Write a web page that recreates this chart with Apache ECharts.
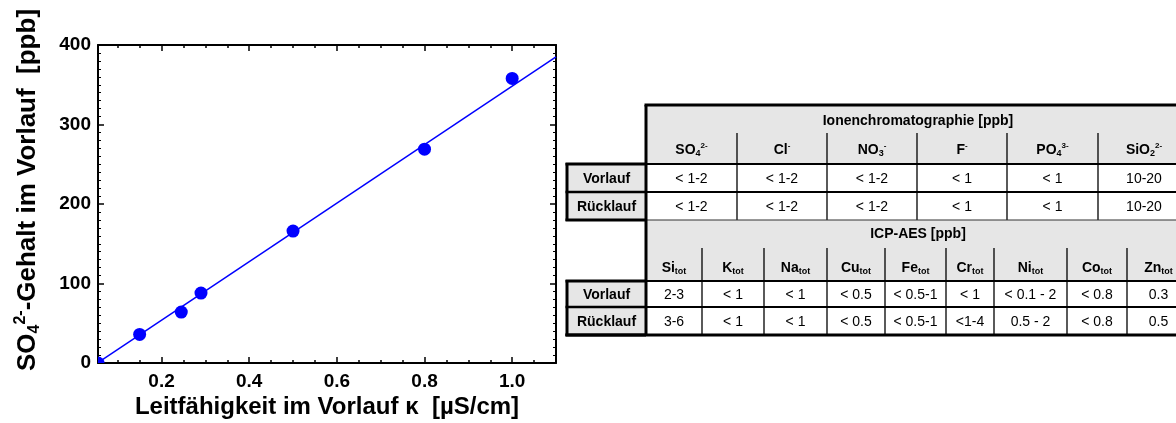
<!DOCTYPE html>
<html>
<head>
<meta charset="utf-8">
<script src="https://cdn.jsdelivr.net/npm/echarts@6/dist/echarts.min.js"></script>
<style>
  html, body { margin: 0; padding: 0; background: #fff; }
  #chart { width: 1176px; height: 423px; }
</style>
</head>
<body>
<div id="chart"></div>
<script>
// ---- measured data: SO4 content vs. conductivity ----
const conductivity = [0.055, 0.15, 0.245, 0.29, 0.5, 0.8, 1.0];
const so4Content   = [0, 36, 64, 88, 166, 269, 358];
// regression line end points
const fitX = [0.055, 1.1];
const fitY = [0.5, 385];

// ---- axis ticks ----
const xMajorTicks = [0.2, 0.4, 0.6, 0.8, 1.0];
const xMinorTicks = [0.1, 0.15, 0.25, 0.3, 0.35, 0.45, 0.5, 0.55, 0.65, 0.7, 0.75, 0.85, 0.9, 0.95, 1.05];

// ---- table contents ----
const rowLabels = ['Vorlauf', 'Rücklauf'];

const ionTitle = 'Ionenchromatographie [ppb]';
// [symbol, subscript, superscript]
const ionSpecies = [['SO', '4', '2-'], ['Cl', '', '-'], ['NO', '3', '-'], ['F', '', '-'], ['PO', '4', '3-'], ['SiO', '2', '2-']];
const ionVorlauf   = ['< 1-2', '< 1-2', '< 1-2', '< 1', '< 1', '10-20'];
const ionRuecklauf = ['< 1-2', '< 1-2', '< 1-2', '< 1', '< 1', '10-20'];

const icpTitle = 'ICP-AES [ppb]';
const icpElements  = ['Si', 'K', 'Na', 'Cu', 'Fe', 'Cr', 'Ni', 'Co', 'Zn'];
const icpVorlauf   = ['2-3', '< 1', '< 1', '< 0.5', '< 0.5-1', '< 1', '< 0.1 - 2', '< 0.8', '0.3'];
const icpRuecklauf = ['3-6', '< 1', '< 1', '< 0.5', '< 0.5-1', '<1-4', '0.5 - 2', '< 0.8', '0.5'];

// ---- table layout ----
const FONT = 'Liberation Sans, Arial, Helvetica, sans-serif';
const LABEL_LEFT = 567, TABLE_LEFT = 646, TABLE_RIGHT = 1190;
const ionBlock = { top: 105, subTop: 133, titleY: 121, subY: 150, headBottom: 164, rowMid: 192, bottom: 220,
  cols: [646, 737, 827, 917, 1007, 1098, 1190] };
const icpBlock = { top: 220, subTop: 248, titleY: 234, subY: 268, headBottom: 281, rowMid: 307, bottom: 335,
  cols: [646, 702, 764, 827, 885, 946, 994, 1067, 1127, 1190] };
const GREY = '#e6e6e6';
const CELL_FONT = 14;

const richHead = {
  b:   { fontFamily: FONT, fontSize: CELL_FONT, fontWeight: 'bold', lineHeight: 17, color: '#000' },
  sub: { fontFamily: FONT, fontSize: 9, fontWeight: 'bold', lineHeight: 9, verticalAlign: 'bottom', color: '#000' },
  sup: { fontFamily: FONT, fontSize: 8, fontWeight: 'bold', lineHeight: 8, verticalAlign: 'top', color: '#000' }
};

function chemText(sym, sub, sup) {
  let s = '{b|' + sym + '}';
  if (sub) s += '{sub|' + sub + '}';
  if (sup) s += '{sup|' + sup + '}';
  return s;
}

function txt(x, y, text, opts) {
  opts = opts || {};
  return {
    type: 'text', x: x, y: y, silent: true, z: 20,
    style: Object.assign({
      text: text, fill: '#000', fontFamily: FONT,
      fontSize: opts.fontSize || CELL_FONT, fontWeight: opts.bold ? 'bold' : 'normal',
      textAlign: 'center', textVerticalAlign: 'middle'
    }, opts.rich ? { rich: opts.rich } : {})
  };
}
function rect(x, y, w, h, fill) {
  return { type: 'rect', silent: true, z: 10, shape: { x: x, y: y, width: w, height: h },
    style: { fill: fill } };
}
function line(x1, y1, x2, y2, lw, color) {
  return { type: 'line', silent: true, z: 15, shape: { x1: x1, y1: y1, x2: x2, y2: y2 },
    style: { stroke: color || '#000', lineWidth: lw } };
}

function buildBlock(b, title, heads, row1, row2, thickTop, thickBottom) {
  const els = [];
  // header background and data area
  els.push(rect(TABLE_LEFT, b.top, TABLE_RIGHT - TABLE_LEFT, b.headBottom - b.top, GREY));
  els.push(rect(TABLE_LEFT, b.headBottom, TABLE_RIGHT - TABLE_LEFT, b.bottom - b.headBottom, '#fff'));
  // row label cells
  els.push(rect(LABEL_LEFT, b.headBottom, TABLE_LEFT - LABEL_LEFT, b.bottom - b.headBottom, GREY));
  // column dividers
  for (let i = 1; i < b.cols.length - 1; i++) {
    els.push(line(b.cols[i], b.subTop, b.cols[i], b.bottom, 1.3));
  }
  // horizontal rules
  els.push(line(LABEL_LEFT, b.headBottom, TABLE_RIGHT, b.headBottom, 2));
  els.push(line(LABEL_LEFT, b.rowMid, TABLE_RIGHT, b.rowMid, 2));
  if (thickTop) els.push(line(TABLE_LEFT - 1.5, b.top, TABLE_RIGHT, b.top, 3));
  if (thickBottom) els.push(line(LABEL_LEFT - 1.5, b.bottom, TABLE_RIGHT, b.bottom, 3));
  else els.push(line(LABEL_LEFT, b.bottom, TABLE_RIGHT, b.bottom, 1.2, '#333'));
  // heavy frame of the label column and header block
  els.push(line(TABLE_LEFT, b.top, TABLE_LEFT, b.bottom, 3));
  els.push(line(LABEL_LEFT, b.headBottom - 1, LABEL_LEFT, b.bottom + 1, 3));
  els.push(line(LABEL_LEFT - 1.5, b.headBottom, TABLE_LEFT, b.headBottom, 3));
  els.push(line(LABEL_LEFT - 1.5, b.rowMid, TABLE_LEFT, b.rowMid, 2.5));
  els.push(line(LABEL_LEFT - 1.5, b.bottom, TABLE_LEFT, b.bottom, 3));
  // texts
  els.push(txt((TABLE_LEFT + TABLE_RIGHT) / 2, b.titleY, title, { bold: true }));
  const r1y = (b.headBottom + b.rowMid) / 2 + 1, r2y = (b.rowMid + b.bottom) / 2 + 1;
  els.push(txt((LABEL_LEFT + TABLE_LEFT) / 2, r1y, rowLabels[0], { bold: true }));
  els.push(txt((LABEL_LEFT + TABLE_LEFT) / 2, r2y, rowLabels[1], { bold: true }));
  for (let i = 0; i < heads.length; i++) {
    const cx = (b.cols[i] + b.cols[i + 1]) / 2;
    els.push(txt(cx, b.subY, heads[i], { rich: richHead }));
    els.push(txt(cx, r1y, row1[i], {}));
    els.push(txt(cx, r2y, row2[i], {}));
  }
  return els;
}

const tableElements = []
  .concat(buildBlock(ionBlock, ionTitle, ionSpecies.map(s => chemText(s[0], s[1], s[2])), ionVorlauf, ionRuecklauf, true, false))
  .concat(buildBlock(icpBlock, icpTitle, icpElements.map(s => chemText(s, 'tot', '')), icpVorlauf, icpRuecklauf, false, true));

// axis titles
const titleRich = {
  b:   { fontFamily: FONT, fontSize: 26, fontWeight: 'bold', lineHeight: 30, color: '#000' },
  sub: { fontFamily: FONT, fontSize: 16, fontWeight: 'bold', lineHeight: 14, verticalAlign: 'bottom', color: '#000' },
  sup: { fontFamily: FONT, fontSize: 16, fontWeight: 'bold', lineHeight: 14, verticalAlign: 'top', color: '#000' }
};
const axisTitles = [
  {
    type: 'text', x: 327, y: 407, silent: true,
    style: { text: 'Leitfähigkeit im Vorlauf κ  [µS/cm]', fill: '#000', fontFamily: FONT, fontSize: 24,
      fontWeight: 'bold', textAlign: 'center', textVerticalAlign: 'middle' }
  },
  {
    type: 'text', x: 28, y: 190, rotation: Math.PI / 2, silent: true,
    style: { text: '{b|SO}{sub|4}{sup|2-}{b|-Gehalt im Vorlauf  [ppb]}', rich: titleRich,
      textAlign: 'center', textVerticalAlign: 'middle' }
  }
];

const axisLineStyle = { color: '#000', width: 2 };
const tickStyle = { color: '#000', width: 1.5 };
const labelStyle = { fontFamily: FONT, fontSize: 19, fontWeight: 'bold', color: '#000' };

function xAxisDef(position, ticks, len, withLabels, withLine) {
  return {
    type: 'value', position: position, min: 0.055, max: 1.1, gridIndex: 0,
    axisLine: { show: withLine, onZero: false, lineStyle: axisLineStyle },
    axisTick: { show: true, inside: true, length: len, customValues: ticks, lineStyle: tickStyle },
    axisLabel: withLabels
      ? Object.assign({ show: true, margin: 9, customValues: xMajorTicks, formatter: v => v.toFixed(1) }, labelStyle)
      : { show: false },
    splitLine: { show: false }
  };
}
function yAxisDef(position, withLabels) {
  return {
    type: 'value', position: position, min: 0, max: 400, interval: 100,
    axisLine: { show: true, onZero: false, lineStyle: axisLineStyle },
    axisTick: { show: true, inside: true, length: 6, lineStyle: tickStyle },
    minorTick: { show: true, splitNumber: 10, length: 3, lineStyle: { color: '#000', width: 1 } },
    axisLabel: withLabels ? Object.assign({ show: true, margin: 7 }, labelStyle) : { show: false },
    splitLine: { show: false }, minorSplitLine: { show: false }
  };
}

const chart = echarts.init(document.getElementById('chart'), null, { renderer: 'canvas' });
chart.setOption({
  animation: false,
  backgroundColor: '#fff',
  grid: { left: 98, top: 45, width: 458, height: 318, containLabel: false },
  xAxis: [
    xAxisDef('bottom', xMajorTicks, 6, true, true),
    xAxisDef('bottom', xMinorTicks, 3, false, false),
    xAxisDef('top', xMajorTicks, 6, false, true),
    xAxisDef('top', xMinorTicks, 3, false, false)
  ],
  yAxis: [yAxisDef('left', true), yAxisDef('right', false)],
  series: [
    {
      type: 'line', xAxisIndex: 0, yAxisIndex: 0, symbol: 'none', clip: true, z: 2,
      data: fitX.map((x, i) => [x, fitY[i]]),
      lineStyle: { color: '#0000ff', width: 1.5 }
    },
    {
      // measured points as filled discs, clipped to the plot frame
      type: 'custom', xAxisIndex: 0, yAxisIndex: 0, clip: true, z: 3,
      data: conductivity.map((x, i) => [x, so4Content[i]]),
      encode: { x: 0, y: 1 },
      renderItem: function (params, api) {
        const p = api.coord([api.value(0), api.value(1)]);
        return { type: 'circle', shape: { cx: p[0], cy: p[1], r: 6.5 }, style: { fill: '#0000ff' } };
      }
    }
  ],
  graphic: { elements: axisTitles.concat(tableElements) }
});
</script>
</body>
</html>
